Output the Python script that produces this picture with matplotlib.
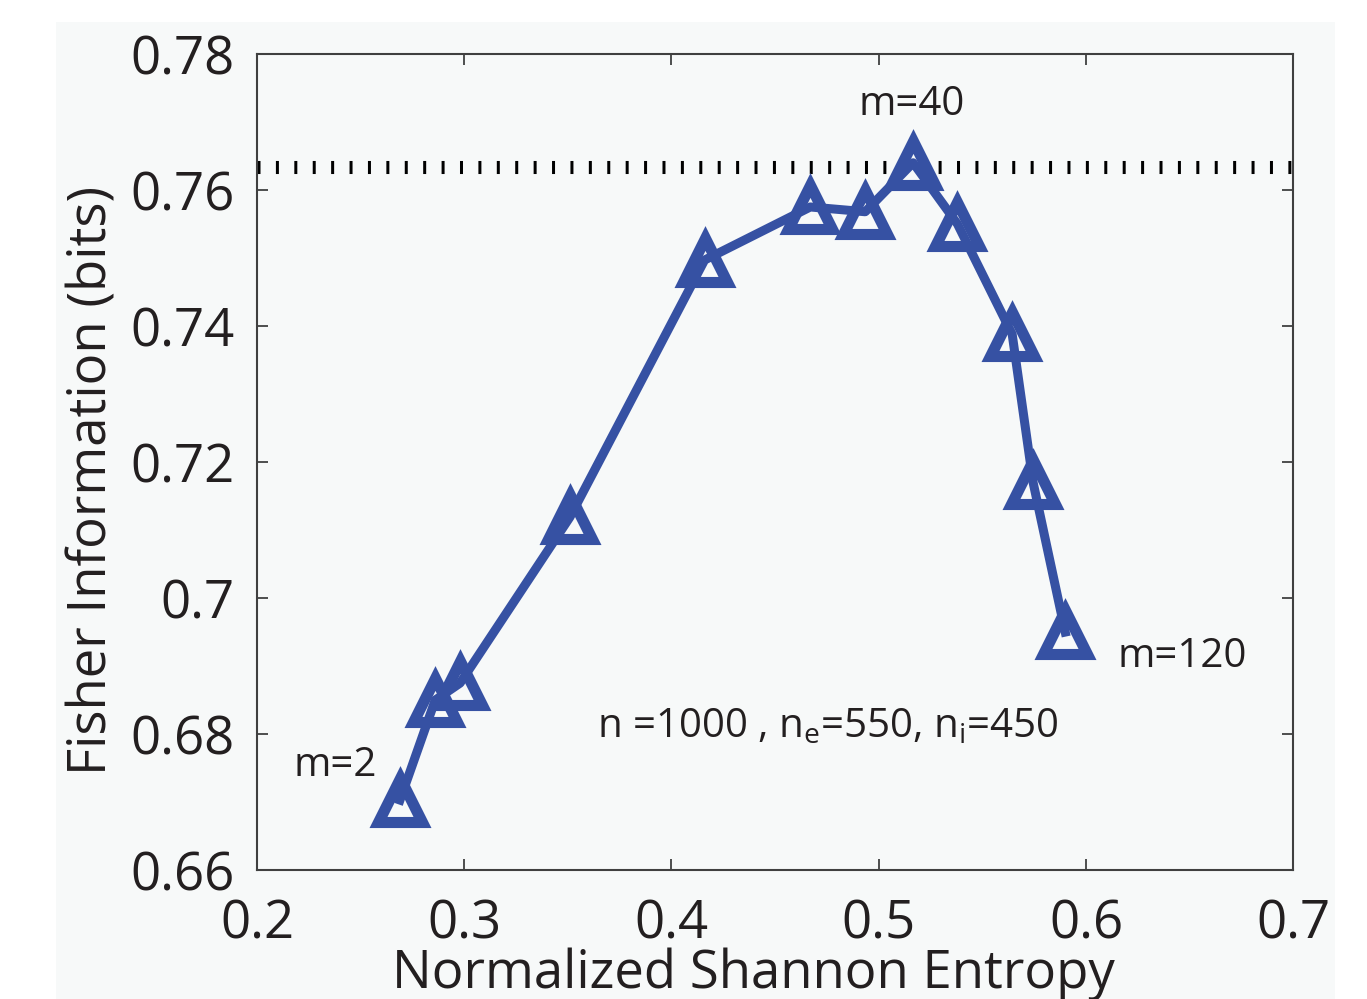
import matplotlib
matplotlib.use('Agg')
import matplotlib.pyplot as plt
from matplotlib.patches import Rectangle

# data
entropy = [0.269, 0.286, 0.298, 0.351, 0.416, 0.467, 0.4935, 0.5166, 0.538, 0.5644, 0.5745, 0.590]
fisher = [0.6703, 0.6850, 0.6875, 0.7119, 0.7497, 0.7575, 0.7568, 0.7640, 0.7550, 0.7388, 0.7170, 0.6950]
ref_level = 0.7634
x_ticks = [0.2, 0.3, 0.4, 0.5, 0.6, 0.7]
y_ticks = [0.66, 0.68, 0.70, 0.72, 0.74, 0.76, 0.78]
x_tick_labels = ['0.2', '0.3', '0.4', '0.5', '0.6', '0.7']
y_tick_labels = ['0.66', '0.68', '0.7', '0.72', '0.74', '0.76', '0.78']

plt.rcParams['font.family'] = ['Open Sans', 'DejaVu Sans']
plt.rcParams['mathtext.fontset'] = 'custom'
plt.rcParams['mathtext.rm'] = 'Open Sans'

bg = '#f7f9f9'
blue = '#3651a3'
txt = '#231f20'

fig = plt.figure(figsize=(13.67, 9.99), dpi=100)
fig.patch.set_facecolor('white')
# gray page area behind the plot
fig.patches.append(Rectangle((56 / 1367, 0), (1335 - 56) / 1367, (999 - 22) / 999,
                             transform=fig.transFigure, facecolor=bg, edgecolor='none', zorder=-10))

ax = fig.add_axes([0.188, 0.129, 0.758, 0.817])
ax.set_facecolor(bg)

# dotted reference line
ax.axhline(ref_level, color='black', linewidth=9.4, linestyle=(0, (0.23, 1.18)),
           dash_capstyle='butt', zorder=2)

ax.plot(entropy, fisher, color=blue, linewidth=6.5, marker='^', markersize=32,
        markerfacecolor='none', markeredgecolor=blue, markeredgewidth=8, zorder=3)

ax.set_xlim(0.2, 0.7)
ax.set_ylim(0.66, 0.78)
ax.set_xticks(x_ticks)
ax.set_xticklabels(x_tick_labels)
ax.set_yticks(y_ticks)
ax.set_yticklabels(y_tick_labels)
ax.tick_params(direction='in', length=8, width=1.3, color='#404040',
               top=True, right=True, labelsize=38, labelcolor=txt, pad=16)
ax.tick_params(axis='x', pad=20)
for s in ax.spines.values():
    s.set_color('#404040')
    s.set_linewidth(1.5)

ax.set_xlabel('Normalized Shannon Entropy', fontsize=38, color=txt)
ax.xaxis.set_label_coords(0.479, -0.095, transform=ax.transAxes)
ax.xaxis.label.set_va('top')
ax.set_ylabel('Fisher Information (bits)', fontsize=38, color=txt)
ax.yaxis.set_label_coords(-0.133, 0.477)

ax.text(0.2376, 0.6754, 'm=2', fontsize=29, color=txt, ha='center', va='center')
ax.text(0.516, 0.7725, 'm=40', fontsize=29, color=txt, ha='center', va='center')
ax.text(0.6464, 0.6913, 'm=120', fontsize=29, color=txt, ha='center', va='center')
ax.text(0.4756, 0.681, r'n =1000 , n$_\mathregular{e}$=550, n$_\mathregular{i}$=450',
        fontsize=29, color=txt, ha='center', va='center')

fig.savefig('out.png', dpi=100, facecolor='white')
